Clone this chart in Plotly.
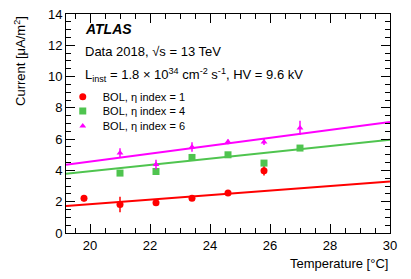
import plotly.graph_objects as go

# Data
temp_eta1 = [19.8, 21.0, 22.2, 23.4, 24.6, 25.8]
cur_eta1 = [2.22, 1.82, 1.93, 2.22, 2.55, 3.98]
err_eta1 = [0.2, 0.5, 0.15, 0.1, 0.08, 0.3]

temp_eta4 = [21.0, 22.2, 23.4, 24.6, 25.8, 27.0]
cur_eta4 = [3.83, 3.93, 4.83, 5.0, 4.47, 5.43]
err_eta4 = [0.15, 0.1, 0.2, 0.1, 0.1, 0.1]

temp_eta6 = [21.0, 22.2, 23.4, 24.6, 25.8, 27.0]
cur_eta6 = [5.11, 4.38, 5.5, 5.83, 5.82, 6.72]
err_eta6 = [0.3, 0.3, 0.3, 0.15, 0.2, 0.45]

fit_x = [19.2, 30.0]
fit_eta1 = [1.72, 3.30]
fit_eta4 = [3.79, 5.96]
fit_eta6 = [4.36, 7.09]

labels = ["BOL, η index = 1", "BOL, η index = 4", "BOL, η index = 6"]
colors = ["#ff0000", "#4fc44f", "#ff00ff"]
symbols = ["circle", "square", "triangle-up"]
marker_sizes = [7, 7, 6]
legend_ids = ["legend", "legend2", "legend3"]
legend_y = [0.622, 0.557, 0.489]

FONT = "Liberation Sans, Arial, sans-serif"

fig = go.Figure()

for fx, fy, c in [(fit_x, fit_eta1, colors[0]), (fit_x, fit_eta4, colors[1]), (fit_x, fit_eta6, colors[2])]:
    fig.add_trace(go.Scatter(x=fx, y=fy, mode="lines", line=dict(color=c, width=2),
                             showlegend=False, hoverinfo="skip"))

for tx, cy, ey, lab, c, s, ms, lg in zip([temp_eta1, temp_eta4, temp_eta6],
                                          [cur_eta1, cur_eta4, cur_eta6],
                                          [err_eta1, err_eta4, err_eta6],
                                          labels, colors, symbols, marker_sizes, legend_ids):
    fig.add_trace(go.Scatter(x=tx, y=cy, mode="markers", name=lab, legend=lg,
                             marker=dict(color=c, symbol=s, size=ms),
                             error_y=dict(type="data", array=ey, color=c, thickness=1.5, width=0)))

axis_common = dict(showline=True, linecolor="black", linewidth=1, mirror="allticks",
                   ticks="inside", ticklen=9, tickcolor="black", showgrid=False, zeroline=False,
                   tickfont=dict(family=FONT, size=13, color="black"))

fig.update_xaxes(range=[19.2, 30], dtick=2, tick0=20,
                 minor=dict(ticks="inside", ticklen=5, dtick=0.5, tick0=20, tickcolor="black"),
                 **axis_common)
fig.update_yaxes(range=[0, 14], dtick=2, tick0=0,
                 minor=dict(ticks="inside", ticklen=5, dtick=0.5, tick0=0, tickcolor="black"),
                 **axis_common)

fig.add_annotation(text="<b><i>ATLAS</i></b>", xref="paper", yref="paper", x=0.052, y=0.932,
                   xanchor="left", yanchor="middle", showarrow=False,
                   font=dict(family=FONT, size=14, color="black"))
fig.add_annotation(text="Data 2018, √s = 13 TeV", xref="paper", yref="paper", x=0.052, y=0.83,
                   xanchor="left", yanchor="middle", showarrow=False,
                   font=dict(family=FONT, size=13, color="black"))
fig.add_annotation(text="L<sub>inst</sub> = 1.8 × 10<sup>34</sup> cm<sup>-2</sup> s<sup>-1</sup>, HV = 9.6 kV",
                   xref="paper", yref="paper", x=0.052, y=0.72,
                   xanchor="left", yanchor="middle", showarrow=False,
                   font=dict(family=FONT, size=13, color="black"))
fig.add_annotation(text="Current [μA/m<sup>2</sup>]", xref="paper", yref="paper", x=-0.142, y=1.0,
                   xanchor="center", yanchor="top", textangle=-90, showarrow=False,
                   font=dict(family=FONT, size=13, color="black"))
fig.add_annotation(text="Temperature [°C]", xref="paper", yref="paper", x=1.0, y=-0.14,
                   xanchor="right", yanchor="middle", showarrow=False,
                   font=dict(family=FONT, size=13, color="black"))

leg_common = dict(x=-0.01, xanchor="left", yanchor="middle", bgcolor="rgba(0,0,0,0)",
                  font=dict(family=FONT, size=11, color="black"), itemwidth=30)

fig.update_layout(
    width=411, height=279,
    margin=dict(l=66, r=21, t=14, b=46, autoexpand=False),
    paper_bgcolor="white", plot_bgcolor="white",
    showlegend=True,
    legend=dict(y=legend_y[0], **leg_common),
    legend2=dict(y=legend_y[1], **leg_common),
    legend3=dict(y=legend_y[2], **leg_common),
)

fig.write_html("out.html", config={"displayModeBar": False},
               post_script="document.body.style.margin='0';")
